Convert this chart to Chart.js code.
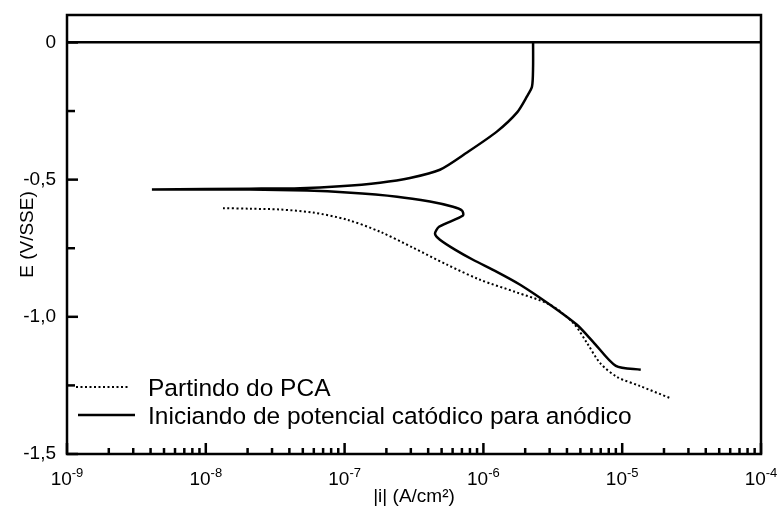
<!DOCTYPE html>
<html>
<head>
<meta charset="utf-8">
<script src="https://cdn.jsdelivr.net/npm/chart.js@4"></script>
<style>
  body { margin: 0; background: #fff; }
  #wrap { width: 780px; height: 515px; }
</style>
</head>
<body>
<div id="wrap"><canvas id="polChart" width="780" height="515"></canvas></div>
<script>
// ---- data ----
// "Partindo do PCA" (dotted)
const pcaI = [1.33e-8, 2.08e-8, 3.43e-8, 5.91e-8, 1.04e-7, 1.80e-7, 3.11e-7, 5.47e-7, 9.46e-7,
              1.69e-6, 3.02e-6, 4.43e-6, 5.57e-6, 6.92e-6, 9.18e-6, 1.34e-5, 2.21e-5];
const pcaE = [-0.604, -0.606, -0.609, -0.620, -0.646, -0.690, -0.748, -0.810, -0.865,
              -0.909, -0.956, -1.022, -1.095, -1.168, -1.219, -1.252, -1.296];

// "Iniciando de potencial catódico para anódico" (solid), in sweep order
const sweepI = [1.36e-5, 9.0e-6, 6.17e-6, 4.72e-6, 3.02e-6, 1.84e-6, 1.25e-6, 8.41e-7, 6.24e-7,
                4.86e-7, 4.48e-7, 4.79e-7, 7.13e-7, 7.02e-7, 6.04e-7, 4.12e-7, 2.39e-7, 1.04e-7,
                5.36e-8, 2.08e-8, 4.09e-9, 2.08e-8, 4.78e-8, 9.27e-8, 1.80e-7, 2.96e-7, 4.86e-7,
                7.62e-7, 1.25e-6, 1.75e-6, 2.06e-6, 2.24e-6, 2.28e-6, 2.28e-6];
const sweepE = [-1.193, -1.179, -1.091, -1.029, -0.956, -0.883, -0.836, -0.792, -0.755,
                -0.719, -0.697, -0.672, -0.631, -0.613, -0.599, -0.580, -0.562, -0.547,
                -0.540, -0.536, -0.536, -0.533, -0.531, -0.524, -0.511, -0.494, -0.464,
                -0.401, -0.325, -0.255, -0.197, -0.161, -0.088, 0.0];

const yTicks = [-1.5, -1.0, -0.5, 0];
const yMinor = [-1.25, -0.75, -0.25];
const xDecades = [-9, -8, -7, -6, -5, -4];

const legendLabels = ['Partindo do PCA', 'Iniciando de potencial catódico para anódico'];

const FONT = '"Liberation Sans", Arial, sans-serif';

function toPoints(xs, ys) {
    return xs.map((v, k) => ({ x: v, y: ys[k] }));
}

// frame, inward ticks, x labels with exponents, inset legend
const decorPlugin = {
    id: 'decor',
    afterDraw(chart) {
        const { ctx, chartArea: a, scales: { x, y } } = chart;
        ctx.save();
        ctx.strokeStyle = '#000';
        ctx.fillStyle = '#000';
        ctx.lineWidth = 2.5;
        ctx.strokeRect(a.left, a.top, a.right - a.left, a.bottom - a.top);

        // y ticks (pointing into the plot)
        yTicks.forEach(v => {
            const py = y.getPixelForValue(v);
            ctx.beginPath(); ctx.moveTo(a.left, py); ctx.lineTo(a.left + 11, py); ctx.stroke();
        });
        yMinor.forEach(v => {
            const py = y.getPixelForValue(v);
            ctx.beginPath(); ctx.moveTo(a.left, py); ctx.lineTo(a.left + 8, py); ctx.stroke();
        });

        // x ticks: decades long, 2..9 short
        xDecades.forEach(d => {
            const px = x.getPixelForValue(Math.pow(10, d));
            ctx.beginPath(); ctx.moveTo(px, a.bottom); ctx.lineTo(px, a.bottom - 11); ctx.stroke();
            if (d < -4) {
                for (let k = 2; k <= 9; k++) {
                    const pm = x.getPixelForValue(k * Math.pow(10, d));
                    ctx.beginPath(); ctx.moveTo(pm, a.bottom); ctx.lineTo(pm, a.bottom - 6); ctx.stroke();
                }
            }
        });

        // x tick labels 10^n
        ctx.textBaseline = 'alphabetic';
        ctx.textAlign = 'left';
        xDecades.forEach(d => {
            const px = x.getPixelForValue(Math.pow(10, d));
            ctx.font = '19px ' + FONT;
            const w1 = ctx.measureText('10').width;
            ctx.font = '13px ' + FONT;
            const w2 = ctx.measureText(String(d)).width;
            const x0 = px - (w1 + w2) / 2;
            ctx.font = '19px ' + FONT;
            ctx.fillText('10', x0, 485);
            ctx.font = '13px ' + FONT;
            ctx.fillText(String(d), x0 + w1, 477);
        });

        // legend inside the plot
        ctx.lineWidth = 2;
        ctx.setLineDash([2, 2.5]);
        ctx.beginPath(); ctx.moveTo(76, 387); ctx.lineTo(130, 387); ctx.stroke();
        ctx.setLineDash([]);
        ctx.lineWidth = 2.5;
        ctx.beginPath(); ctx.moveTo(78, 415); ctx.lineTo(135, 415); ctx.stroke();
        ctx.font = '24.5px ' + FONT;
        ctx.textBaseline = 'middle';
        ctx.fillText(legendLabels[0], 148, 389);
        ctx.fillText(legendLabels[1], 148, 417);
        ctx.restore();
    }
};

const chart = new Chart(document.getElementById('polChart'), {
    type: 'scatter',
    data: {
        datasets: [{
            label: legendLabels[0],
            data: toPoints(pcaI, pcaE),
            showLine: true,
            borderColor: '#000',
            borderWidth: 2,
            borderDash: [2, 2.5],
            pointRadius: 0,
            tension: 0.3
        }, {
            label: legendLabels[1],
            data: toPoints(sweepI, sweepE),
            showLine: true,
            borderColor: '#000',
            borderWidth: 2.5,
            pointRadius: 0,
            tension: 0.25
        }]
    },
    options: {
        responsive: false,
        animation: false,
        layout: { padding: { left: 0, top: 15, right: 19, bottom: 0 } },
        plugins: {
            legend: { display: false },
            tooltip: { enabled: false }
        },
        scales: {
            x: {
                type: 'logarithmic',
                min: 1e-9,
                max: 1e-4,
                grid: { display: false },
                border: { display: false },
                ticks: { display: false },
                title: {
                    display: true,
                    text: '|i| (A/cm²)',
                    color: '#000',
                    font: { family: FONT, size: 19 },
                    padding: { top: 0, bottom: 7 }
                },
                afterFit(scale) {
                    scale.height = 61;
                    scale.paddingLeft = 0; scale.paddingRight = 0;
                }
            },
            y: {
                min: -1.5,
                max: 0.1,
                afterBuildTicks(scale) { scale.ticks = yTicks.map(v => ({ value: v })); },
                grid: {
                    drawTicks: false,
                    lineWidth: 2.5,
                    color: c => (c.tick && c.tick.value === 0) ? '#000' : 'rgba(0,0,0,0)'
                },
                border: { display: false },
                ticks: {
                    color: '#000',
                    padding: 11,
                    font: { family: FONT, size: 19 },
                    callback: v => v === 0 ? '0' : v.toFixed(1).replace('.', ',')
                },
                title: {
                    display: true,
                    text: 'E (V/SSE)',
                    color: '#000',
                    font: { family: FONT, size: 19 },
                    padding: { top: 16, bottom: 0 }
                },
                afterFit(scale) {
                    scale.width = 67;
                    scale.paddingTop = 0; scale.paddingBottom = 0;
                }
            }
        }
    },
    plugins: [decorPlugin]
});
</script>
</body>
</html>
